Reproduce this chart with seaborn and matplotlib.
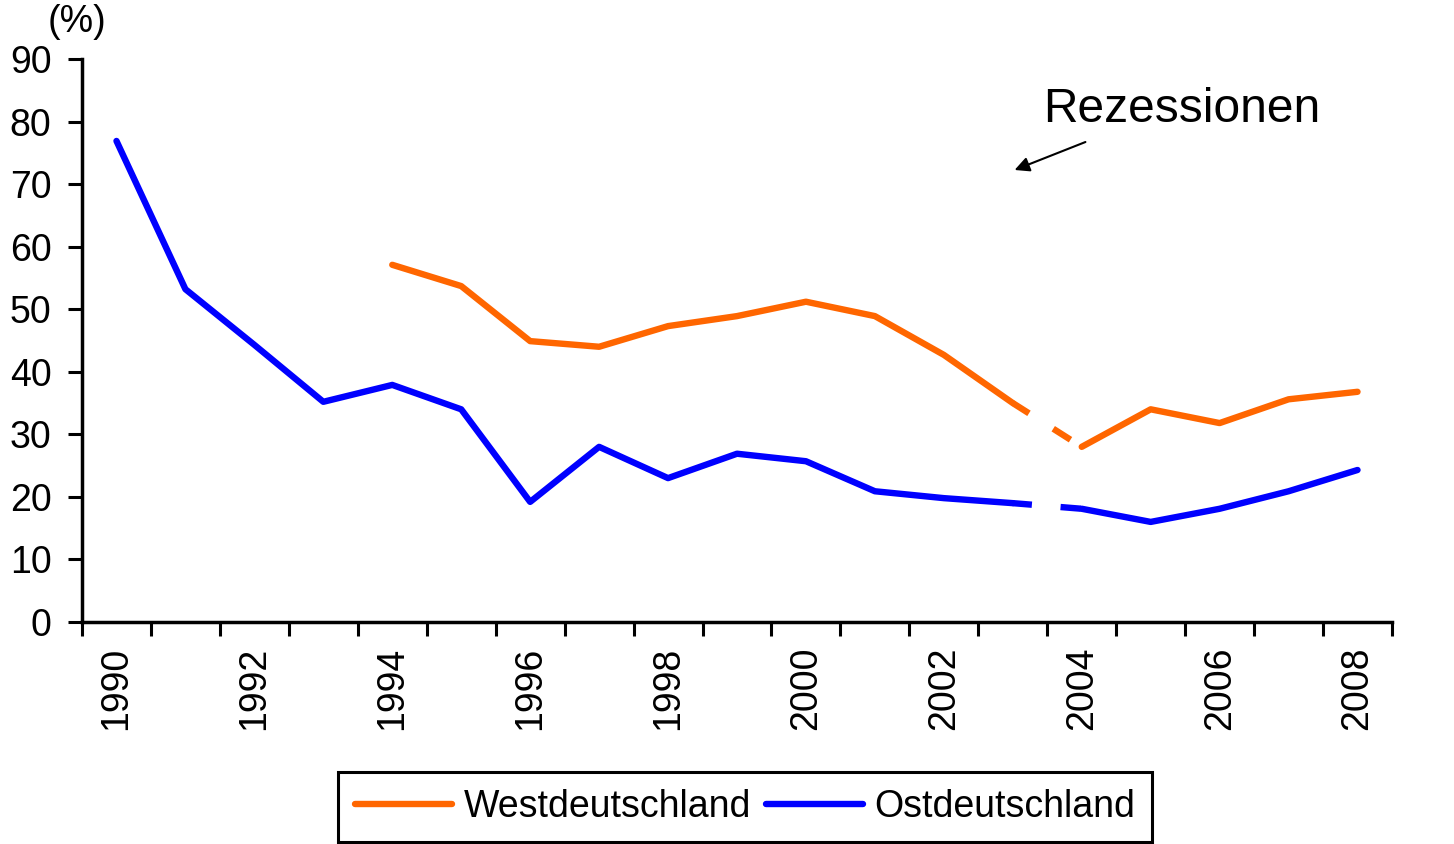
import matplotlib
matplotlib.use("Agg")
import matplotlib.pyplot as plt
from matplotlib.lines import Line2D
import seaborn as sns
import pandas as pd

years = list(range(1990, 2009))
ost = [76.9, 53.2, 44.3, 35.2, 37.9, 34.0, 19.2, 28.0, 23.0, 26.9, 25.7,
       20.9, 19.8, 19.0, 18.1, 16.0, 18.1, 20.9, 24.3]
west = [None, None, None, None, 57.1, 53.7, 44.9, 44.0, 47.3, 48.9, 51.2,
        48.9, 42.7, 35.0, 28.0, 34.0, 31.8, 35.6, 36.8]
series_names = ["Westdeutschland", "Ostdeutschland"]
colors = {"Westdeutschland": "#FF6600", "Ostdeutschland": "#0000FF"}
recession_years = (2003, 2004)

rows = []
for y, w, o in zip(years, west, ost):
    if w is not None:
        rows.append({"Jahr": y, "Wert": w, "Serie": "Westdeutschland"})
    rows.append({"Jahr": y, "Wert": o, "Serie": "Ostdeutschland"})
df = pd.DataFrame(rows)

sns.set_style("white")
plt.rcParams["font.family"] = ["Liberation Sans", "DejaVu Sans"]
plt.rcParams["text.color"] = "black"
plt.rcParams["xtick.color"] = "black"
plt.rcParams["ytick.color"] = "black"
plt.rcParams["axes.labelcolor"] = "black"

fs = 27
fig = plt.figure(figsize=(14.54, 8.44), dpi=100)
ax = fig.add_axes([82 / 1454, 1 - 622 / 844, (1392 - 82) / 1454, (622 - 59) / 844])

lw = 4.6
for name in series_names:
    d = df[df["Serie"] == name]
    before = d[d["Jahr"] <= recession_years[0]]
    after = d[d["Jahr"] >= recession_years[1]]
    mid = d[(d["Jahr"] >= recession_years[0]) & (d["Jahr"] <= recession_years[1])]
    for part in (before, after):
        sns.lineplot(data=part, x="Jahr", y="Wert", ax=ax, color=colors[name],
                     linewidth=lw, solid_capstyle="round", solid_joinstyle="round",
                     legend=False, errorbar=None, sort=True)
    l = sns.lineplot(data=mid, x="Jahr", y="Wert", ax=ax, color=colors[name],
                     linewidth=lw, legend=False, errorbar=None)
    l.lines[-1].set_dashes([3.0, 4.5, 3.2, 3.5])
    l.lines[-1].set_dash_capstyle("butt")

ax.set_xlim(1989.5, 2008.5)
ax.set_ylim(0, 90)
ax.set_yticks(range(0, 91, 10))
ax.set_xticks([y + 0.5 for y in range(1989, 2009)], minor=False)
ax.set_xticklabels([])
ax.set_xticks(list(range(1990, 2009, 2)), minor=True)
ax.set_xticklabels([str(y) for y in range(1990, 2009, 2)], minor=True, rotation=90)
ax.tick_params(axis="x", which="minor", length=0, pad=18, labelsize=fs)
ax.tick_params(axis="x", which="major", length=10, width=2.2, direction="out", color="black", bottom=True)
ax.tick_params(axis="y", length=10, width=2.2, direction="out", pad=12, labelsize=fs, left=True, color="black")
ax.set_xlabel("")
ax.set_ylabel("")
for s in ("top", "right"):
    ax.spines[s].set_visible(False)
for s in ("left", "bottom"):
    ax.spines[s].set_color("black")
    ax.spines[s].set_linewidth(2.5)
ax.spines["bottom"].set_bounds(1989.5, 2008.5)

fig.text(77 / 1454, 1 - 22 / 844, "(%)", fontsize=fs, ha="center", va="center")

ax.text(1043 / 1454, 1 - 110 / 844, "Rezessionen", transform=fig.transFigure,
        fontsize=34.5, ha="left", va="center")
ax.annotate("", xy=(1012 / 1454, 1 - 171 / 844), xytext=(1088 / 1454, 1 - 141 / 844),
            xycoords="figure fraction", textcoords="figure fraction",
            arrowprops=dict(arrowstyle="-|>", color="black", lw=1.5, mutation_scale=22))

handles = [Line2D([0], [0], color=colors[n], lw=lw, solid_capstyle="round") for n in series_names]
leg = fig.legend(handles, series_names, loc="upper center",
                 bbox_to_anchor=(745 / 1454, 1 - 772 / 844), ncol=2, fontsize=fs,
                 frameon=True, fancybox=False, edgecolor="black", framealpha=1,
                 handlelength=2.6, handletextpad=0.3, columnspacing=0.4,
                 borderpad=0.45, borderaxespad=0)
leg.get_frame().set_linewidth(2.2)
leg.get_frame().set_edgecolor("black")

fig.savefig("out.png", dpi=100, facecolor="white")
